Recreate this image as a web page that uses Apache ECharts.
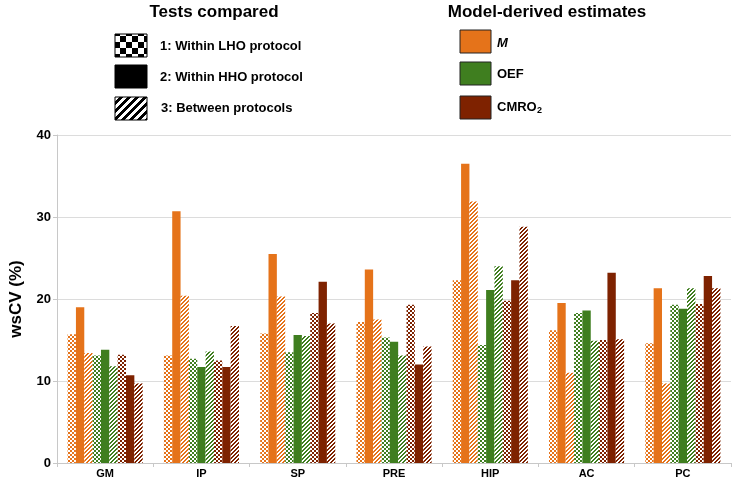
<!DOCTYPE html>
<html>
<head>
<meta charset="utf-8">
<script src="https://cdn.jsdelivr.net/npm/echarts@6/dist/echarts.min.js"></script>
<style>html,body{margin:0;padding:0;background:#fff}#c{width:733px;height:479px}</style>
</head>
<body>
<div id="c"></div>
<script>
var categories = ['GM','IP','SP','PRE','HIP','AC','PC'];
var yTicks = [0, 10, 20, 30, 40];
var mWithinLHO    = [15.7, 13.1, 15.8, 17.2, 22.3, 16.2, 14.6];
var mWithinHHO    = [19.0, 30.7, 25.5, 23.6, 36.5, 19.5, 21.3];
var mBetween      = [13.4, 20.4, 20.3, 17.5, 31.9, 11.0, 9.7];
var oefWithinLHO  = [13.1, 12.7, 13.5, 15.3, 14.4, 18.3, 19.3];
var oefWithinHHO  = [13.8, 11.7, 15.6, 14.8, 21.1, 18.6, 18.8];
var oefBetween    = [11.8, 13.6, 15.5, 13.1, 24.0, 14.9, 21.3];
var cmroWithinLHO = [13.2, 12.5, 18.3, 19.3, 19.8, 15.0, 19.4];
var cmroWithinHHO = [10.7, 11.7, 22.1, 12.0, 22.3, 23.2, 22.8];
var cmroBetween   = [9.7, 16.7, 17.0, 14.2, 28.8, 15.1, 21.3];

var COL = {M:'#E5731A', OEF:'#3F7E1F', CMRO:'#7E2200'};

function checker(color, cell, bg){
  var c = document.createElement('canvas'); c.width = cell*2; c.height = cell*2;
  var g = c.getContext('2d');
  g.fillStyle = bg || '#fff'; g.fillRect(0,0,cell*2,cell*2);
  g.fillStyle = color; g.fillRect(0,0,cell,cell); g.fillRect(cell,cell,cell,cell);
  return {image:c, repeat:'repeat'};
}
function hatch(color, period, bg){
  var c = document.createElement('canvas'); c.width = period; c.height = period;
  var g = c.getContext('2d');
  g.fillStyle = bg || '#fff'; g.fillRect(0,0,period,period);
  g.fillStyle = color;
  for (var x=0;x<period;x++) for (var y=0;y<period;y++){
    if (((x+y)%period) < period/2) g.fillRect(x,y,1,1);
  }
  return {image:c, repeat:'repeat'};
}

function bar(name, data, fill){
  return {name:name, type:'bar', data:data, barGap:'0%', barCategoryGap:'22%',
    itemStyle:{color:fill}, emphasis:{disabled:true}};
}

var font = 'Liberation Sans, Arial, sans-serif';
var chart = echarts.init(document.getElementById('c'));
var graphic = [
  {type:'text', left:null, x:214, y:12, style:{text:'Tests compared', font:'bold 17px '+font, fill:'#000', align:'center', verticalAlign:'middle'}},
  {type:'text', x:547, y:12, style:{text:'Model-derived estimates', font:'bold 17px '+font, fill:'#000', align:'center', verticalAlign:'middle'}},
  {type:'rect', shape:{x:115, y:34, width:32, height:23}, style:{fill:checker('#000',6), stroke:'#000', lineWidth:1}},
  {type:'rect', shape:{x:115, y:65, width:32, height:23}, style:{fill:'#000', stroke:'#000', lineWidth:1}},
  {type:'rect', shape:{x:115, y:97, width:32, height:23}, style:{fill:hatch('#000',8), stroke:'#000', lineWidth:1}},
  {type:'text', x:160, y:46, style:{text:'1: Within LHO protocol', font:'bold 13px '+font, fill:'#000', verticalAlign:'middle'}},
  {type:'text', x:160, y:77, style:{text:'2: Within HHO protocol', font:'bold 13px '+font, fill:'#000', verticalAlign:'middle'}},
  {type:'text', x:161, y:108, style:{text:'3: Between protocols', font:'bold 13px '+font, fill:'#000', verticalAlign:'middle'}},
  {type:'rect', shape:{x:460, y:30, width:31, height:23}, style:{fill:COL.M, stroke:'#222', lineWidth:1}},
  {type:'rect', shape:{x:460, y:62, width:31, height:23}, style:{fill:COL.OEF, stroke:'#222', lineWidth:1}},
  {type:'rect', shape:{x:460, y:96, width:31, height:23}, style:{fill:COL.CMRO, stroke:'#222', lineWidth:1}},
  {type:'text', x:497, y:43, style:{text:'M', font:'italic bold 13px '+font, fill:'#000', verticalAlign:'middle'}},
  {type:'text', x:497, y:74, style:{text:'OEF', font:'bold 13px '+font, fill:'#000', verticalAlign:'middle'}},
  {type:'text', x:497, y:107, style:{text:'CMRO', font:'bold 13px '+font, fill:'#000', verticalAlign:'middle'}},
  {type:'text', x:537, y:111, style:{text:'2', font:'bold 9px '+font, fill:'#000', verticalAlign:'middle'}}
];

chart.setOption({
  animation:false,
  backgroundColor:'#fff',
  textStyle:{fontFamily:font},
  grid:{left:54, right:2, top:135, bottom:15, containLabel:false},
  xAxis:{type:'category', data:categories,
    axisLine:{lineStyle:{color:'#c8c8c8'}},
    axisTick:{show:true, length:4, lineStyle:{color:'#c8c8c8'}},
    axisLabel:{fontSize:11, fontWeight:'bold', color:'#000', margin:5}},
  yAxis:{type:'value', min:yTicks[0], max:yTicks[yTicks.length-1], interval:10,
    name:'wsCV (%)', nameLocation:'middle', nameGap:32, nameRotate:90,
    nameTextStyle:{fontSize:17, fontWeight:'bold', color:'#000'},
    axisLine:{show:true, lineStyle:{color:'#c8c8c8'}},
    axisTick:{show:true, length:4, lineStyle:{color:'#c8c8c8'}},
    axisLabel:{fontSize:13, fontWeight:'bold', color:'#000', margin:6},
    splitLine:{lineStyle:{color:'#dcdcdc', width:1}}},
  graphic:graphic,
  series:[
    bar('M 1', mWithinLHO, checker(COL.M,2)),
    bar('M 2', mWithinHHO, COL.M),
    bar('M 3', mBetween, hatch(COL.M,4)),
    bar('OEF 1', oefWithinLHO, checker(COL.OEF,2)),
    bar('OEF 2', oefWithinHHO, COL.OEF),
    bar('OEF 3', oefBetween, hatch(COL.OEF,4)),
    bar('CMRO2 1', cmroWithinLHO, checker(COL.CMRO,2)),
    bar('CMRO2 2', cmroWithinHHO, COL.CMRO),
    bar('CMRO2 3', cmroBetween, hatch(COL.CMRO,4))
  ]
});
</script>
</body>
</html>
